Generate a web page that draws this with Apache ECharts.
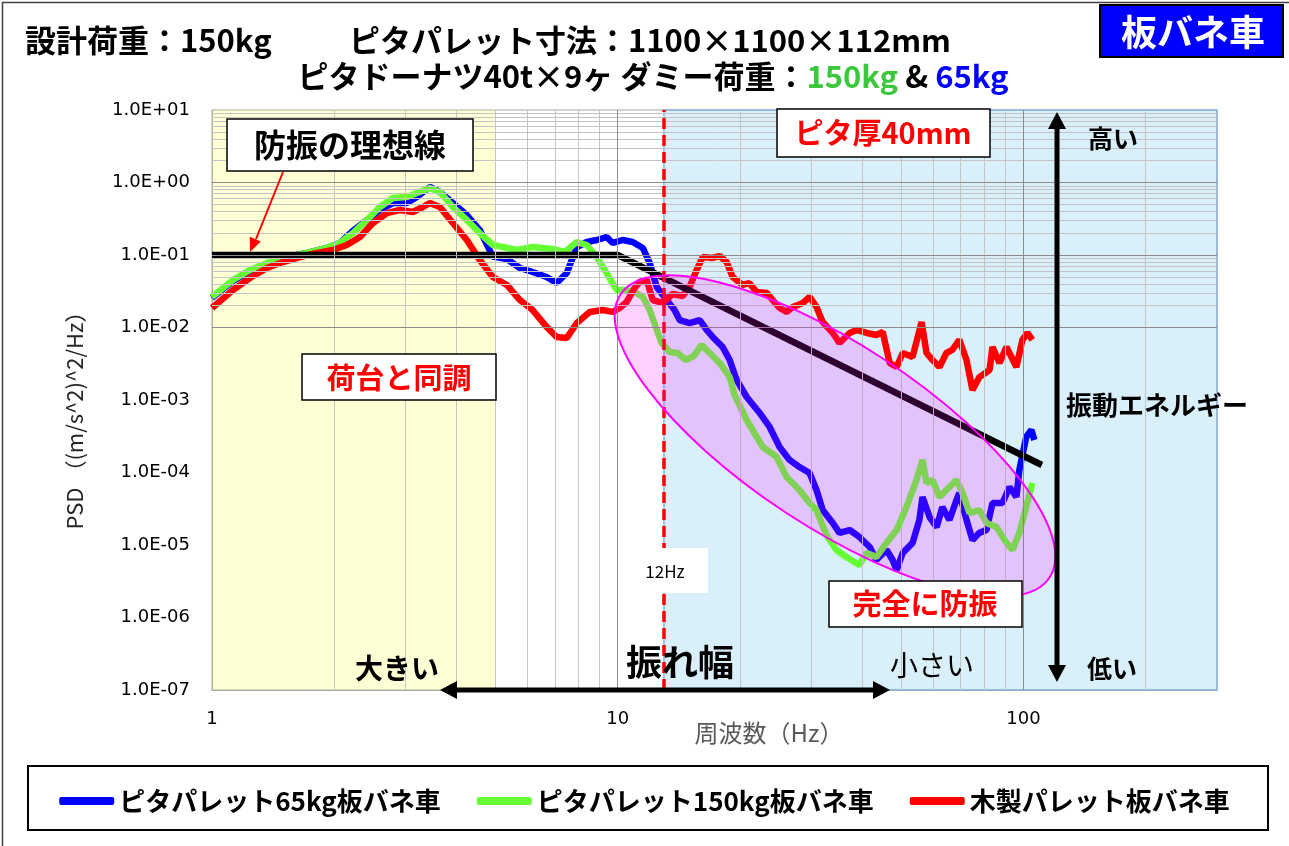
<!DOCTYPE html>
<html><head><meta charset="utf-8">
<script src="https://cdn.jsdelivr.net/npm/echarts@6/dist/echarts.min.js"></script>
<style>html,body{margin:0;padding:0;background:#fff}#c{width:1289px;height:846px}</style>
</head><body><div id="c"></div>
<script>
// ---- data (frequency Hz, PSD (m/s^2)^2/Hz) ----
const seriesNames = ['ピタパレット65kg板バネ車', 'ピタパレット150kg板バネ車', '木製パレット板バネ車'];
const freqBlue = [1,1.126,1.24,1.366,1.53,1.714,1.92,2.067,2.225,2.593,2.791,3.022,3.199,3.443,3.645,3.923,4.246,4.571,4.922,5.33,5.74,6.17,6.68,7.07,7.49,7.93,8.39,8.88,9.39,9.72,10.29,10.89,11.53,11.99,12.48,13.2,13.81,14.21,15.04,15.92,16.57,17.14,18.14,18.88,19.64,20.79,22.38,23.68,25.06,26.52,28.06,29.71,30.9,32.0,33.9,35.2,37.3,39.4,41.8,43.4,46.0,47.6,48.7,50.4,53.3,55.4,56.4,58.7,61.1,63.1,65.7,68.4,69.5,72.4,74.9,77.9,81.1,83.9,88.8,92.4,96.1,97.7,101.6,104.6,106.4];
const psdBlue = [0.0255,0.0437,0.060,0.0752,0.0938,0.1066,0.125,0.1466,0.215,0.418,0.521,0.521,0.631,0.867,0.740,0.521,0.356,0.221,0.095,0.088,0.0662,0.0583,0.0498,0.0411,0.0565,0.1288,0.151,0.161,0.177,0.1466,0.161,0.151,0.125,0.0776,0.0362,0.0239,0.0174,0.01268,0.01153,0.01268,0.00924,0.0074,0.00538,0.00356,0.00189,0.0011,0.000662,0.000425,0.000225,0.000149,0.000119,9.84e-5,5.74e-5,3.04e-5,2.01e-5,1.47e-5,1.61e-5,1.29e-5,9.38e-6,6.21e-6,8.53e-6,6.21e-6,4.52e-6,7.76e-6,1.07e-5,2.21e-5,4.59e-5,2.43e-5,1.77e-5,3.34e-5,2.21e-5,4.18e-5,5.21e-5,2.21e-5,1.17e-5,1.47e-5,1.61e-5,3.79e-5,3.79e-5,6.31e-5,4.59e-5,1.08e-4,3.09e-4,3.86e-4,2.81e-4];
const freqGreen = [1,1.126,1.24,1.366,1.53,1.714,1.92,2.067,2.225,2.409,2.593,2.791,3.022,3.199,3.443,3.645,3.923,4.246,4.571,4.922,5.21,5.64,6.17,6.92,7.40,7.93,8.39,8.88,9.39,9.94,10.40,11.01,11.53,11.99,12.41,12.83,13.43,14.05,14.71,15.39,16.10,16.85,17.84,18.88,19.41,20.79,22.76,24.64,26.08,28.06,29.71,30.9,31.8,32.9,34.6,36.6,39.4,41.1,43.4,46.0,48.7,51.5,54.5,56.4,57.7,59.7,62.1,65.7,68.4,70.8,73.6,77.9,81.1,85.8,90.8,94.0,97.7,101.6,105.2];
const psdGreen = [0.0264,0.0452,0.0621,0.0776,0.0938,0.1066,0.125,0.1466,0.201,0.304,0.459,0.611,0.631,0.716,0.840,0.740,0.459,0.304,0.201,0.1374,0.1288,0.1172,0.1288,0.121,0.110,0.151,0.1374,0.0938,0.0565,0.0329,0.0329,0.0309,0.0264,0.0174,0.0102,0.00611,0.00459,0.00445,0.00356,0.00404,0.00574,0.00445,0.00324,0.00207,0.00117,0.00053,0.000225,0.000164,8.67e-5,5.74e-5,3.79e-5,3.04e-5,2.01e-5,1.29e-5,8.53e-6,6.83e-6,5.30e-6,7.76e-6,6.83e-6,1.07e-5,1.61e-5,3.34e-5,7.89e-5,1.49e-4,7.16e-5,7.89e-5,4.59e-5,6.31e-5,7.89e-5,5.21e-5,2.76e-5,3.04e-5,2.01e-5,1.77e-5,1.07e-5,8.53e-6,1.47e-5,3.34e-5,7.16e-5];
const freqRed = [1,1.126,1.24,1.366,1.496,1.647,1.813,1.986,2.150,2.315,2.493,2.698,2.904,3.126,3.31,3.443,3.645,3.923,4.246,4.571,4.922,5.33,5.74,6.17,6.68,7.07,7.49,7.93,8.53,9.18,9.72,10.11,10.52,11.01,11.33,11.79,12.2,12.91,13.66,14.46,15.04,15.65,16.2,17.14,17.84,18.55,19.2,20.32,21.1,22.0,23.3,24.1,25.06,26.08,27.0,28.6,29.71,30.9,32.0,33.9,35.2,37.3,38.8,41.1,43.4,45.0,46.8,48.7,50.4,53.3,56.1,57.7,59.7,62.1,64.6,66.8,69.5,72.4,74.9,77.9,82.5,83.9,87.3,90.8,96.1,99.4,102.3,105.2];
const psdRed = [0.0186,0.0329,0.0482,0.0662,0.080,0.0938,0.1066,0.1172,0.1374,0.177,0.276,0.379,0.418,0.392,0.459,0.521,0.459,0.276,0.161,0.0853,0.0498,0.0386,0.0239,0.0174,0.0102,0.0074,0.00716,0.01153,0.0164,0.0174,0.0164,0.0186,0.0225,0.0351,0.0425,0.0452,0.0239,0.0218,0.029,0.0272,0.0362,0.0621,0.0938,0.091,0.0968,0.080,0.0498,0.0386,0.0411,0.0309,0.030,0.0239,0.0186,0.0164,0.0192,0.0218,0.0264,0.0192,0.0119,0.0084,0.00611,0.0084,0.00924,0.0084,0.00788,0.00867,0.00324,0.00285,0.00445,0.00392,0.0119,0.00445,0.00356,0.00285,0.00445,0.0049,0.00673,0.00356,0.00137,0.00207,0.00259,0.00538,0.00324,0.00538,0.00285,0.00673,0.0084,0.00673];
const idealFreq = [1, 10, 111];
const idealPsd = [0.1, 0.1, 1.27e-4];
const xMin = 1, xMax = 300, yMin = 1e-7, yMax = 10;
const yellowBand = [1, 5];
const blueBand = [13, 300];
const markerFreq = 13;

// ---- helpers ----
const zip = (a, b) => a.map((v, i) => [v, b[i]]);
const isPow10 = v => Math.abs(Math.log10(v) - Math.round(Math.log10(v))) < 1e-6;
const minorX = [], minorY = [], majorX = [], majorY = [];
for (let e = 0; e <= 2; e++) for (let k = 1; k <= 9; k++) { const v = k * Math.pow(10, e); if (v > xMin && v < xMax) (k === 1 ? majorX : minorX).push(v); }
for (let e = -7; e <= 0; e++) for (let k = 1; k <= 9; k++) { const v = k * Math.pow(10, e); if (v > yMin && v < yMax) (k === 1 ? majorY : minorY).push(v); }
const gridLines = [
  ...minorX.map(v => ({ xAxis: v, lineStyle: { color: '#C4C4C4', width: 1, type: 'solid' } })),
  ...minorY.map(v => ({ yAxis: v, lineStyle: { color: '#C4C4C4', width: 1, type: 'solid' } })),
  ...majorX.map(v => ({ xAxis: v, lineStyle: { color: '#8C8C8C', width: 1, type: 'solid' } })),
  ...majorY.map(v => ({ yAxis: v, lineStyle: { color: '#8C8C8C', width: 1, type: 'solid' } }))
];
const JP = '"Noto Sans CJK JP", sans-serif';
const txt = (x, y, text, size, color, weight, align) => ({
  type: 'text', x, y, z: 100, silent: true,
  style: { text, fill: color, fontSize: size, fontWeight: weight || 'bold', fontFamily: JP,
    align: align || 'center', verticalAlign: 'middle', textAlign: align || 'center', textVerticalAlign: 'middle' }
});
const box = (x, y, w, h) => ({ type: 'rect', z: 99, silent: true, shape: { x, y, width: w, height: h },
  style: { fill: '#fff', stroke: '#000', lineWidth: 1.5 } });
const poly = (pts, color) => ({ type: 'polygon', z: 100, silent: true, shape: { points: pts }, style: { fill: color } });
const seg = (x1, y1, x2, y2, w, color) => ({ type: 'line', z: 100, silent: true, shape: { x1, y1, x2, y2 }, style: { stroke: color, lineWidth: w } });

const chart = echarts.init(document.getElementById('c'));
const curve = (name, c, data) => ({ type: 'line', name, data, showSymbol: false, z: 3,
  lineStyle: { color: c, width: 6.5 }, itemStyle: { color: c }, emphasis: { disabled: true } });

chart.setOption({
  animation: false,
  backgroundColor: '#fff',
  grid: { left: 212, right: 72, top: 110, bottom: 156, show: true, borderColor: '#A6A6A6', borderWidth: 1, backgroundColor: 'transparent' },
  xAxis: { type: 'log', logBase: 10, min: xMin, max: xMax, splitNumber: 3,
    axisLine: { show: true, lineStyle: { color: '#A6A6A6' } }, axisTick: { show: false }, splitLine: { show: false },
    axisLabel: { margin: 20, fontSize: 18, fontFamily: 'DejaVu Sans', color: '#000', showMaxLabel: true,
      formatter: v => isPow10(v) ? String(Math.round(v)) : '' } },
  yAxis: { type: 'log', logBase: 10, min: yMin, max: yMax, splitNumber: 8,
    axisLine: { show: true, lineStyle: { color: '#A6A6A6' } }, axisTick: { show: false }, splitLine: { show: false },
    axisLabel: { margin: 22, fontSize: 18, fontFamily: 'DejaVu Sans', color: '#000',
      formatter: v => { const e = Math.round(Math.log10(v)); return '1.0E' + (e >= 0 ? '+' : '-') + String(Math.abs(e)).padStart(2, '0'); } } },
  legend: { data: seriesNames, top: 783, left: 'center', icon: 'roundRect', itemWidth: 55, itemHeight: 8, itemGap: 36,
    textStyle: { fontSize: 26, fontWeight: 'bold', fontFamily: JP, color: '#000' } },
  series: [
    { type: 'line', data: [], z: 1, silent: true, markLine: { silent: true, symbol: ['none', 'none'], label: { show: false }, animation: false, data: gridLines } },
    curve(seriesNames[0], '#0000FF', zip(freqBlue, psdBlue)),
    curve(seriesNames[1], '#66FF33', zip(freqGreen, psdGreen)),
    curve(seriesNames[2], '#FF0000', zip(freqRed, psdRed)),
    { type: 'line', name: 'ideal', data: zip(idealFreq, idealPsd), showSymbol: false, z: 4,
      lineStyle: { color: '#000', width: 6.5 }, itemStyle: { color: '#000' }, emphasis: { disabled: true } },
    { type: 'line', data: [], z: 10, silent: true, markArea: { silent: true, animation: false, data: [
      [{ xAxis: yellowBand[0], itemStyle: { color: 'rgba(255,255,50,0.2)' } }, { xAxis: yellowBand[1] }],
      [{ xAxis: blueBand[0], itemStyle: { color: 'rgba(44,167,225,0.18)', borderColor: '#8DB4E2', borderWidth: 1.5 } }, { xAxis: blueBand[1] }]
    ] } },
    { type: 'line', data: [], z: 20, silent: true, markLine: { silent: true, symbol: ['none', 'none'], label: { show: false }, animation: false,
      data: [{ xAxis: markerFreq, lineStyle: { color: '#FF0000', width: 3.5, type: [11, 6] } }] } }
  ],
  graphic: [
    { type: 'rect', z: 100, silent: true, shape: { x: 2.5, y: 2.5, width: 1300, height: 900 }, style: { fill: 'none', stroke: '#404040', lineWidth: 1.5 } },
    { type: 'ellipse', z: 50, silent: true, x: 835, y: 436, rotation: -0.583, shape: { cx: 0, cy: 0, rx: 257, ry: 91 },
      style: { fill: 'rgba(255,0,255,0.18)', stroke: '#FF00FF', lineWidth: 2 } },
    { type: 'rect', z: 99, silent: true, shape: { x: 1100, y: 5, width: 183, height: 52 }, style: { fill: '#0000FF', stroke: '#000', lineWidth: 2 } },
    txt(1193, 32, '板バネ車', 36, '#fff'),
    txt(25, 40, '設計荷重：150kg', 31, '#000', 'bold', 'left'),
    txt(650, 40, 'ピタパレット寸法：1100×1100×112mm', 31, '#000'),
    { type: 'text', x: 653, y: 76, z: 100, silent: true, style: {
      text: '{k|ピタドーナツ40t×9ヶ ダミー荷重：}{g|150kg}{k| & }{b|65kg}',
      align: 'center', verticalAlign: 'middle', textAlign: 'center', textVerticalAlign: 'middle',
      fontSize: 31, fontWeight: 'bold', fontFamily: JP,
      rich: { k: { fill: '#000', color: '#000', fontSize: 31, fontWeight: 'bold', fontFamily: JP },
              g: { fill: '#3CC83C', color: '#3CC83C', fontSize: 31, fontWeight: 'bold', fontFamily: JP },
              b: { fill: '#0000FF', color: '#0000FF', fontSize: 31, fontWeight: 'bold', fontFamily: JP } } } },
    box(227, 119, 246, 52), txt(350, 145, '防振の理想線', 32, '#000'),
    seg(283, 172, 256, 239, 2, '#FF0000'), poly([[250, 252], [260.8, 241.4], [249.8, 236.8]], '#FF0000'),
    box(302, 354, 194, 46), txt(399, 378, '荷台と同調', 29, '#FF0000'),
    box(777, 109, 213, 48), txt(883, 133, 'ピタ厚40mm', 29, '#FF0000'),
    box(829, 581, 193, 46), txt(925, 604, '完全に防振', 29, '#FF0000'),
    { type: 'rect', z: 99, silent: true, shape: { x: 620, y: 548, width: 88, height: 45 }, style: { fill: '#fff' } },
    txt(665, 572, '12Hz', 17, '#000', 'normal'),
    seg(452, 690, 878, 690, 5, '#000'), poly([[440, 690], [457, 681], [457, 699]], '#000'), poly([[890, 690], [873, 681], [873, 699]], '#000'),
    seg(1057, 126, 1057, 668, 5, '#000'), poly([[1057, 112], [1048, 129], [1066, 129]], '#000'), poly([[1057, 682], [1048, 665], [1066, 665]], '#000'),
    txt(397, 668, '大きい', 28, '#000'),
    txt(680, 662, '振れ幅', 36, '#000'),
    txt(932, 665, '小さい', 28, '#000', 'normal'),
    txt(1113, 138, '高い', 25, '#000'),
    txt(1066, 405, '振動エネルギー', 26, '#000', 'bold', 'left'),
    txt(1112, 668, '低い', 25, '#000'),
    { type: 'rect', z: 99, silent: true, shape: { x: 28, y: 766, width: 1240, height: 64 }, style: { fill: 'none', stroke: '#000', lineWidth: 2 } },
    { type: 'text', x: 75, y: 415, z: 100, rotation: Math.PI / 2, silent: true, style: { text: 'PSD （(m/s^2)^2/Hz）', fill: '#262626', fontSize: 22, fontFamily: JP,
      align: 'center', verticalAlign: 'middle', textAlign: 'center', textVerticalAlign: 'middle' } },
    txt(769, 733, '周波数（Hz）', 24, '#595959', 'normal')
  ]
});
</script></body></html>
